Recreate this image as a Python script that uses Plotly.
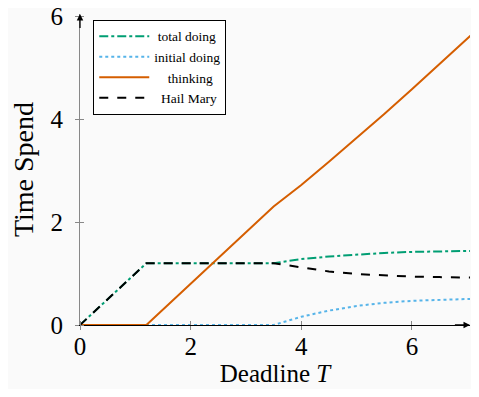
import plotly.graph_objects as go

# Data
deadline_T = [0, 1.2, 3.5, 4.0, 4.5, 5.0, 5.5, 6.0, 6.5, 7.15]
total_doing = [0, 1.2, 1.2, 1.28, 1.33, 1.37, 1.40, 1.42, 1.43, 1.44]
initial_doing = [0, 0, 0, 0.16, 0.28, 0.37, 0.43, 0.47, 0.49, 0.51]
thinking = [0, 0, 2.3, 2.72, 3.17, 3.63, 4.10, 4.58, 5.07, 5.71]
hail_mary = [0, 1.2, 1.2, 1.12, 1.04, 0.99, 0.96, 0.94, 0.93, 0.92]

x_ticks = [0, 2, 4, 6]
y_ticks = [0, 2, 4, 6]

SERIF = "Liberation Serif, DejaVu Serif, serif"
BG = "#fafafa"
NB = "\u00a0"

fig = go.Figure()
fig.add_trace(go.Scatter(x=deadline_T, y=total_doing, mode="lines", name=NB + "total doing",
                         line=dict(color="#009E73", width=2, dash="dashdot")))
fig.add_trace(go.Scatter(x=deadline_T, y=initial_doing, mode="lines", name="initial doing",
                         line=dict(color="#56B4E9", width=2, dash="dot")))
fig.add_trace(go.Scatter(x=deadline_T, y=thinking, mode="lines", name=NB * 4 + "thinking",
                         line=dict(color="#D55E00", width=2)))
fig.add_trace(go.Scatter(x=deadline_T, y=hail_mary, mode="lines", name=NB * 2 + "Hail Mary",
                         line=dict(color="black", width=2, dash="dash")))

x_max = 7.05
y_max = 6.04

# axis arrows
fig.add_annotation(x=x_max, y=0, ax=x_max - 0.3, ay=0, xref="x", yref="y", axref="x", ayref="y",
                   showarrow=True, arrowhead=2, arrowsize=1, arrowwidth=1.3, arrowcolor="black", text="")
fig.add_annotation(x=0, y=y_max, ax=0, ay=y_max - 0.3, xref="x", yref="y", axref="x", ayref="y",
                   showarrow=True, arrowhead=2, arrowsize=1, arrowwidth=1.3, arrowcolor="black", text="")

fig.update_layout(
    width=463, height=381,
    margin=dict(l=72, r=1, t=6, b=64),
    paper_bgcolor=BG, plot_bgcolor=BG,
    font=dict(family=SERIF, color="black"),
    showlegend=True,
    legend=dict(x=0.034, y=0.981, xanchor="left", yanchor="top",
                bgcolor="white", bordercolor="black", borderwidth=1,
                font=dict(family=SERIF, size=13.5), tracegroupgap=0,
                itemwidth=50),
    xaxis=dict(range=[0, x_max], tickvals=x_ticks, ticktext=[str(v) for v in x_ticks],
               showgrid=False, zeroline=False, showline=True, linecolor="black", linewidth=1.2,
               ticks="outside", ticklen=4, tickcolor="#888", tickfont=dict(size=25, family=SERIF),
               minor=dict(tick0=0, dtick=2, ticks="inside", ticklen=4, tickcolor="#888"),
               ticklabelstandoff=-5, automargin=False,
               title=dict(text="Deadline <i>T</i>", font=dict(size=25, family=SERIF), standoff=4)),
    yaxis=dict(range=[0, y_max], tickvals=y_ticks, ticktext=[str(v) for v in y_ticks],
               showgrid=False, zeroline=False, showline=True, linecolor="#888", linewidth=1.2,
               ticks="outside", ticklen=4, tickcolor="#888", tickfont=dict(size=25, family=SERIF),
               minor=dict(tick0=0, dtick=2, ticks="inside", ticklen=4, tickcolor="#888"),
               ticklabelstandoff=7, automargin=False, ticklabeloverflow="allow",
               title=dict(text="Time Spend", font=dict(size=28, family=SERIF), standoff=17)),
)

fig.write_html("out.html")
